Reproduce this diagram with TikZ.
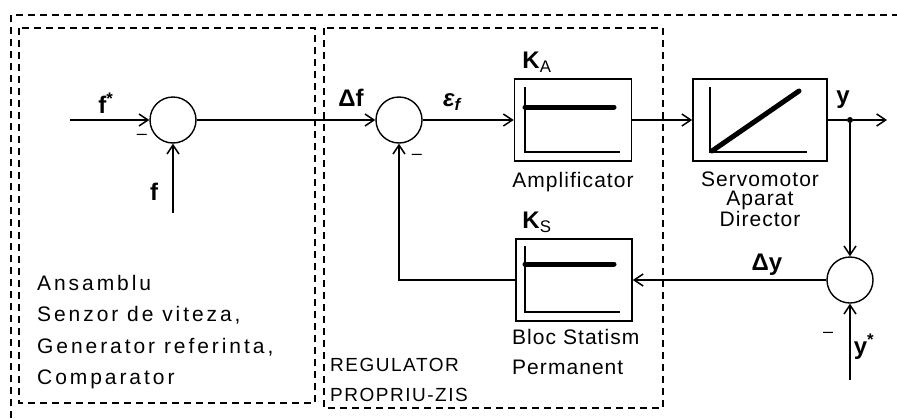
\documentclass[tikz,border=0pt]{standalone}
\usepackage{fontspec}
\setmainfont{Liberation Sans}
\newfontfamily\spacedfont[LetterSpace=14]{Liberation Sans}
\newfontfamily\widefont[LetterSpace=8]{Liberation Sans}
\newfontfamily\capfont[LetterSpace=5]{Liberation Sans}
\usetikzlibrary{arrows.meta,positioning}

\begin{document}
\begin{tikzpicture}[x=1pt, y=-1pt,
    sum/.style={draw, circle, line width=1.4pt, minimum size=46pt, inner sep=0pt},
    blk/.style={draw, line width=1.6pt, minimum height=82pt, inner sep=0pt},
    frame/.style={line width=1.3pt, dash pattern=on 7pt off 5pt},
    sig/.style={line width=1.5pt},
    arrow/.style={sig, -{Straight Barb[length=9pt,width=12pt]}},
    lbl/.style={font=\fontsize{24}{26}\selectfont\bfseries, inner sep=0pt},
    minus/.style={font=\fontsize{18}{18}\selectfont, inner sep=0pt},
    blkcap/.style={font=\fontsize{21}{19}\selectfont\capfont, inner sep=0pt},
    plotax/.style={line width=1.3pt},
    curve/.style={line width=5pt, line cap=round}
]
\useasboundingbox (0,0) rectangle (897,418);

% frames
\draw[frame] (11,418) -- (11,15) -- (897,15);
\draw[frame] (19,28) rectangle (315,403);
\draw[frame] (324,28) rectangle (663,408);

% summing points
\node[sum] (s1) at (173,120) {};
\node[sum] (s2) at (399,120) {};
\node[sum] (s3) at (850,280) {};

% blocks
\node[blk, minimum width=117pt] (amp) at (573,120) {};
\node[blk, minimum width=134pt] (servo) at (760,120) {};
\node[blk, minimum width=116pt] (stat) at (574,280) {};

% characteristics inside the blocks
\draw[plotax] (525,87) -- (525,152) -- (620,152);
\draw[curve] (525,107) -- (614,107);
\draw[plotax] (710,87) -- (710,152) -- (807,152);
\draw[curve] (712,151) -- (799,91);
\draw[plotax] (525,246) -- (525,312) -- (620,312);
\draw[curve] (525,264) -- (614,264);

% signals
\coordinate (fin) at (70,120);
\coordinate (fbot) at (173,213);
\coordinate (yout) at (887,120);
\coordinate (ystar) at (850,380);
\node[circle, fill, inner sep=0pt, minimum size=6pt] (tap) at (850,120) {};
\draw[arrow] (fin) -- (s1);
\draw[arrow] (fbot) -- (s1);
\draw[arrow] (s1) -- (s2);
\draw[arrow] (s2) -- (amp);
\draw[arrow] (amp) -- (servo);
\draw[sig] (servo) -- (tap);
\draw[arrow] (tap) -- (yout);
\draw[arrow] (tap) -- (s3);
\draw[arrow] (s3) -- (stat);
\draw[arrow] (stat.west) -| (s2);
\draw[arrow] (ystar) -- (s3);

% labels
\node[lbl] (fstar) at (106,103) {f\textsuperscript{*}};
\node[lbl] (flab) at (154,192) {f};
\node[minus] (m1) at (142,137) {–};
\node[lbl] (df) at (351,98) {Δf};
\node[minus] (m2) at (417,157) {–};
\node[lbl] (eps) at (452,102) {\itshape ε\textsubscript{f}};
\node[lbl] (ka) at (537,62) {K\textsubscript{\mdseries A}};
\node[lbl] (ks) at (537,222) {K\textsubscript{\mdseries S}};
\node[lbl] (ylab) at (843,100) {y};
\node[lbl] (dy) at (767,265) {Δy};
\node[minus] (m3) at (828,335) {–};
\node[lbl] (ystarlab) at (864,347) {y\textsuperscript{*}};

% captions
\node[blkcap, anchor=north] (ampcap) at (573,172) {Amplificator};
\node[blkcap, anchor=north, align=center] (servocap) at (760,172) {Servomotor\\Aparat\\Director};
\node[blkcap, anchor=north west, align=left, font=\fontsize{21}{30}\selectfont\capfont] (statcap) at (512,329) {Bloc Statism\\Permanent};
\node[anchor=north west, align=left, inner sep=0pt, font=\fontsize{21}{31.5}\selectfont\spacedfont] (senzor) at (37,275) {Ansamblu\\Senzor de viteza,\\Generator referinta,\\Comparator};
\node[anchor=north west, align=left, inner sep=0pt, font=\fontsize{19}{30}\selectfont\widefont] (reg) at (330,358) {REGULATOR\\PROPRIU-ZIS};
\end{tikzpicture}
\end{document}
